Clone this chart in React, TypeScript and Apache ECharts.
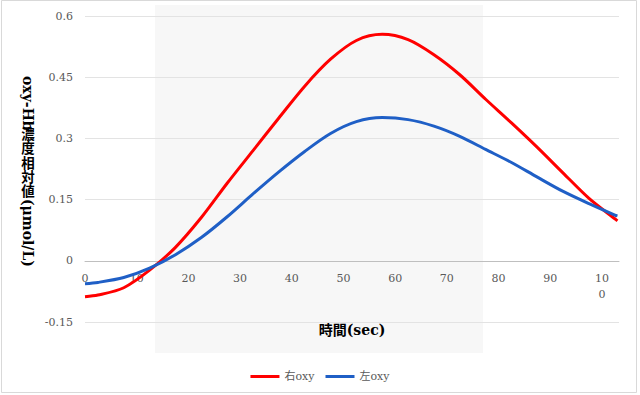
import React, { useEffect, useRef } from 'react';
import * as echarts from 'echarts';

const times = [0, 2.5, 7.5, 12.5, 17.5, 22.5, 27.5, 32.5, 37.5, 42.5, 47.5, 52.5, 57.5, 62.5, 67.5, 72.5, 77.5, 82.5, 87.5, 92.5, 97.5, 102.5, 103];
const rightOxy = [-0.088, -0.084, -0.066, -0.023, 0.033, 0.106, 0.19, 0.27, 0.35, 0.428, 0.494, 0.54, 0.555, 0.542, 0.505, 0.456, 0.396, 0.338, 0.278, 0.215, 0.153, 0.103, 0.098];
const leftOxy = [-0.056, -0.053, -0.041, -0.018, 0.015, 0.057, 0.108, 0.164, 0.218, 0.268, 0.312, 0.341, 0.351, 0.346, 0.33, 0.305, 0.273, 0.241, 0.205, 0.17, 0.14, 0.112, 0.11];
const seriesNames = ['右oxy', '左oxy'];
const xTitle = '時間(sec)';
const yTitleHead = 'oxy-Hb';
const yTitleChars = ['濃', '度', '相', '対', '値'];
const yTitleTail = '(μmol/L)';

const SERIF = '"DejaVu Serif", "Noto Sans CJK JP", serif';

export default function App() {
  const ref = useRef<HTMLDivElement>(null);
  useEffect(() => {
    const chart = echarts.init(ref.current!, null, { renderer: 'svg' });
    const toPairs = (vals: number[]) => times.map((t, i) => [t, vals[i]]);
    const gridTop = 16;
    const gridBottomPx = 322;
    const yMin = -0.15;
    const yMax = 0.6;
    // shift the x axis up from the grid bottom to the zero line
    const zeroOffset = -((0 - yMin) / (yMax - yMin)) * (gridBottomPx - gridTop);

    const cjkEls = yTitleChars.map((c, i) => ({
      type: 'text',
      x: 28,
      y: 126 + i * 14.4,
      style: {
        text: c,
        fontFamily: '"Noto Sans CJK JP", sans-serif',
        fontSize: 13.5,
        fontWeight: 'bold',
        fill: '#000',
        align: 'center',
        verticalAlign: 'top',
      },
    }));

    chart.setOption({
      animation: false,
      backgroundColor: '#ffffff',
      grid: { left: 85, right: 21, top: gridTop, bottom: 395 - gridBottomPx, outerBoundsMode: 'none', containLabel: false },
      legend: {
        data: seriesNames,
        left: 'center',
        top: 366,
        icon: 'rect',
        itemWidth: 29,
        itemHeight: 3,
        itemGap: 11,
        textStyle: { fontFamily: SERIF, fontSize: 11, color: '#595959' },
      },
      xAxis: {
        type: 'value',
        min: 0,
        max: 103.3,
        interval: 10,
        position: 'bottom',
        offset: zeroOffset,
        axisLine: { show: true, onZero: false, lineStyle: { color: '#bfbfbf', width: 1 } },
        axisTick: { show: false },
        splitLine: { show: false },
        axisLabel: {
          margin: 10,
          fontFamily: SERIF,
          fontSize: 11,
          color: '#595959',
          lineHeight: 16,
          showMaxLabel: false,
          formatter: (v: number) => (v === 100 ? '10\n0' : Math.round(v) % 10 === 0 ? String(Math.round(v)) : ''),
        },
        name: xTitle,
        nameLocation: 'middle',
        nameGap: 62,
        nameTextStyle: { fontWeight: 'bold', fontSize: 14, color: '#000', fontFamily: SERIF },
      },
      yAxis: {
        type: 'value',
        min: yMin,
        max: yMax,
        interval: 0.15,
        axisLine: { show: false },
        axisTick: { show: false },
        splitLine: { lineStyle: { color: '#e3e3e3', width: 1 } },
        axisLabel: {
          margin: 12,
          fontFamily: SERIF,
          fontSize: 11,
          color: '#595959',
          formatter: (v: number) => String(Math.round(v * 100) / 100),
        },
      },
      graphic: [
        {
          type: 'rect',
          z: -20,
          silent: true,
          shape: { x: 1.5, y: 0.5, width: 635, height: 392 },
          style: { fill: 'none', stroke: '#d9d9d9', lineWidth: 1 },
        },
        {
          type: 'rect',
          z: -10,
          silent: true,
          shape: { x: 155, y: 5, width: 328, height: 348 },
          style: { fill: '#f7f7f7' },
        },
        {
          type: 'text',
          x: 28,
          y: 76,
          rotation: -Math.PI / 2,
          style: {
            text: yTitleHead,
            fontFamily: SERIF,
            fontSize: 14,
            fontWeight: 'bold',
            fill: '#000',
            align: 'left',
            verticalAlign: 'middle',
          },
        },
        ...cjkEls,
        {
          type: 'text',
          x: 28,
          y: 199,
          rotation: -Math.PI / 2,
          style: {
            text: yTitleTail,
            fontFamily: SERIF,
            fontSize: 14,
            fontWeight: 'bold',
            fill: '#000',
            align: 'left',
            verticalAlign: 'middle',
          },
        },
      ],
      series: [
        {
          name: seriesNames[0],
          type: 'line',
          data: toPairs(rightOxy),
          smooth: 0.3,
          showSymbol: false,
          itemStyle: { color: '#ff0000' },
          lineStyle: { color: '#ff0000', width: 3 },
        },
        {
          name: seriesNames[1],
          type: 'line',
          data: toPairs(leftOxy),
          smooth: 0.3,
          showSymbol: false,
          itemStyle: { color: '#1f5fc6' },
          lineStyle: { color: '#1f5fc6', width: 3 },
        },
      ],
    });
    return () => chart.dispose();
  }, []);
  return (
    <div
      ref={ref}
      style={{ position: 'fixed', left: 0, top: 0, width: 640, height: 395, background: '#fff' }}
    />
  );
}
